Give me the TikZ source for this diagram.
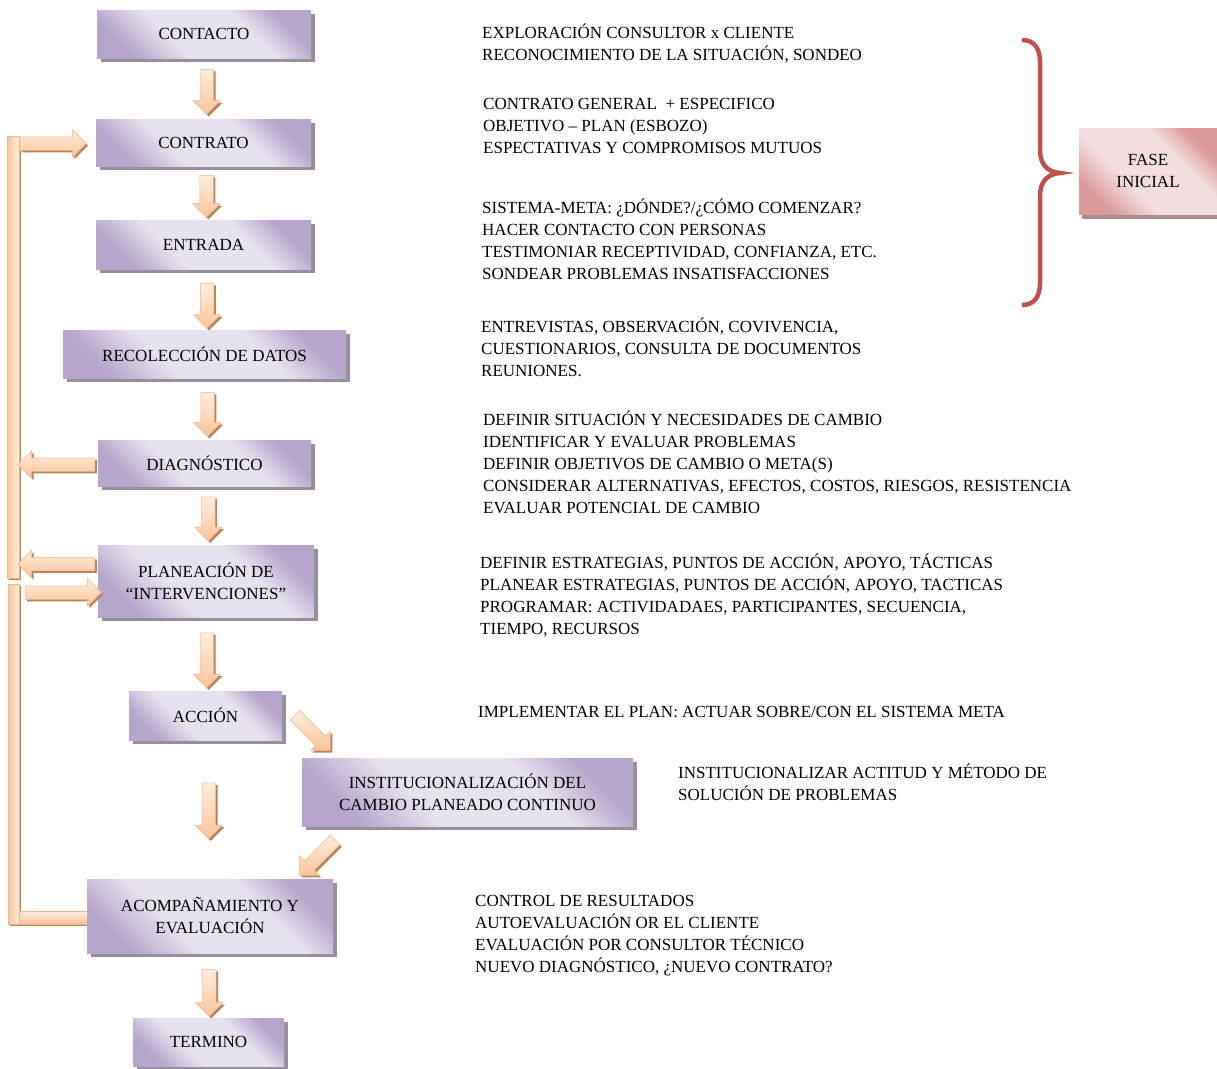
\documentclass[tikz,border=0pt]{standalone}
\usepackage{fontspec}
\setmainfont{Liberation Serif}
\usetikzlibrary{shapes.arrows,shadows,calc}

\definecolor{lavL}{RGB}{232,226,239}
\definecolor{lavD}{RGB}{182,166,204}
\definecolor{boxshadow}{RGB}{150,143,156}
\definecolor{peachL}{RGB}{254,238,225}
\definecolor{peachD}{RGB}{250,196,152}
\definecolor{peachE}{RGB}{245,180,132}
\definecolor{arrshadow}{RGB}{184,130,92}
\definecolor{braceRed}{RGB}{192,80,77}
\definecolor{pinkL}{RGB}{244,222,223}
\definecolor{pinkD}{RGB}{218,154,156}
\definecolor{pinkshadow}{RGB}{170,140,140}

\pgfdeclarehorizontalshading{lavshade}{100bp}{color(0bp)=(lavD); color(25bp)=(lavD); color(40bp)=(lavL); color(63bp)=(lavL); color(75bp)=(lavD); color(100bp)=(lavD)}
\pgfdeclarehorizontalshading{pinkshade}{100bp}{color(0bp)=(pinkD); color(25bp)=(pinkD); color(40bp)=(pinkL); color(63bp)=(pinkL); color(75bp)=(pinkD); color(100bp)=(pinkD)}

\newcommand\txtfont{\fontsize{17}{22}\selectfont}

\tikzset{
  stage/.style={rectangle, inner sep=0pt, shade, shading=lavshade, shading angle=45,
    font=\txtfont, align=center,
    drop shadow={shadow xshift=4pt, shadow yshift=-4pt, fill=boxshadow, opacity=1}},
  phase/.style={rectangle, inner sep=0pt, shade, shading=pinkshade, shading angle=45,
    font=\txtfont, align=center,
    drop shadow={shadow xshift=3pt, shadow yshift=-5pt, fill=pinkshadow, opacity=1}},
  blk/.style={single arrow, inner xsep=0pt, inner ysep=6.5pt, minimum width=27pt,
    single arrow head extend=7pt, single arrow head indent=0pt,
    draw=peachE, line width=0.5pt, shade, top color=peachL, bottom color=peachD,
    drop shadow={shadow xshift=2pt, shadow yshift=-2pt, fill=arrshadow, opacity=1}},
  bar/.style={draw=peachE, line width=0.5pt, left color=peachD, right color=peachL,
    drop shadow={shadow xshift=2pt, shadow yshift=-2pt, fill=arrshadow, opacity=1}},
  info/.style={anchor=north west, inner sep=0pt, align=left, font=\txtfont},
}

\begin{document}
\begin{tikzpicture}[x=1pt, y=-1pt]
\useasboundingbox (0,0) rectangle (1217,1068);

% feedback bars on the left
\coordinate (loopA top) at (7,136);
\coordinate (loopA bot) at (19,578);
\coordinate (loopB top) at (8,584);
\coordinate (loopB bot) at (19,924);
\coordinate (loopB end) at (88,911);
\path[bar] (loopA top) rectangle (loopA bot);
\path[bar] (loopB top) rectangle (loopB bot);
\path[bar, top color=peachL, bottom color=peachD] (loopB bot) rectangle (loopB end);

% stages
\node[stage, minimum width=214pt, minimum height=48pt] (contacto) at (204,34) {CONTACTO};
\node[stage, minimum width=215pt, minimum height=47pt] (contrato) at (203.5,142.5) {CONTRATO};
\node[stage, minimum width=215pt, minimum height=49pt] (entrada) at (203.5,244.5) {ENTRADA};
\node[stage, minimum width=283pt, minimum height=48pt] (recoleccion) at (204.5,354) {RECOLECCIÓN DE DATOS};
\node[stage, minimum width=213pt, minimum height=46pt] (diagnostico) at (204.5,463) {DIAGNÓSTICO};
\node[stage, minimum width=216pt, minimum height=72pt] (planeacion) at (206,581) {PLANEACIÓN DE\\“INTERVENCIONES”};
\node[stage, minimum width=153pt, minimum height=49pt] (accion) at (205.5,715.5) {ACCIÓN};
\node[stage, minimum width=331pt, minimum height=68pt] (instit) at (467.5,792) {INSTITUCIONALIZACIÓN DEL\\CAMBIO PLANEADO CONTINUO};
\node[stage, minimum width=246pt, minimum height=74pt] (acomp) at (210,916) {ACOMPAÑAMIENTO Y\\EVALUACIÓN};
\node[stage, minimum width=151pt, minimum height=48pt] (termino) at (208.5,1042) {TERMINO};

% phase label and brace
\node[phase, minimum width=138pt, minimum height=86pt] (fase) at (1148,171) {FASE\\INICIAL};
\draw[braceRed, line width=4.5pt]
  (1022,40) .. controls (1034,40) and (1040,48) .. (1040,62) -- (1040,150)
  .. controls (1040,164) and (1047,172) .. (1060,173)
  .. controls (1047,174) and (1040,182) .. (1040,196) -- (1040,283)
  .. controls (1040,297) and (1034,305) .. (1022,305);

% main flow arrows
\node[blk, rotate=-90, minimum height=45pt] (a1) at ($(contacto.south)!.5!(contrato.north)+(3,0)$) {};
\node[blk, rotate=-90, minimum height=42pt] (a2) at ($(contrato.south)!.5!(entrada.north)+(3,0)$) {};
\node[blk, rotate=-90, minimum height=45pt] (a3) at ($(entrada.south)!.5!(recoleccion.north)+(3,3)$) {};
\node[blk, rotate=-90, minimum height=44pt] (a4) at ($(recoleccion.south)!.5!(diagnostico.north)+(3,2)$) {};
\node[blk, rotate=-90, minimum height=44pt] (a5) at ($(diagnostico.south)!.5!(planeacion.north)+(3,0)$) {};
\node[blk, rotate=-90, minimum height=55pt] (a6) at ($(planeacion.south)!.5!(accion.north)+(1,3)$) {};
\node[blk, rotate=-90, minimum height=56pt] (a7) at ($(accion.south)!.5!(acomp.north)+(1,-2)$) {};
\node[blk, rotate=-90, minimum height=47pt] (a8) at ($(acomp.south)!.5!(termino.north)+(0,4)$) {};
\node[blk, rotate=-45, minimum height=50pt] (a9) at ($(accion.east)+(28,15)$) {};
\node[blk, rotate=-135, minimum height=50pt] (a10) at ($(instit.south west)+(18,29)$) {};

% feedback arrows
\node[blk, minimum height=66pt] (f1) at ($(contrato.west)+(-46,1)$) {};
\node[blk, rotate=180, minimum height=77pt] (f2) at ($(diagnostico.west)+(-38,1.5)$) {};
\node[blk, rotate=180, minimum height=77pt] (f3) at ($(planeacion.west)+(-38,-17)$) {};
\node[blk, minimum height=76pt] (f4) at ($(planeacion.west)+(-38,11.5)$) {};

% descriptions
\node[info] (d1) at (482,22.6) {\strut EXPLORACIÓN CONSULTOR x CLIENTE\\RECONOCIMIENTO DE LA SITUACIÓN, SONDEO};
\node[info] (d2) at (483,93.6) {\strut CONTRATO GENERAL \ + ESPECIFICO\\OBJETIVO – PLAN (ESBOZO)\\ESPECTATIVAS Y COMPROMISOS MUTUOS};
\node[info] (d3) at (482,197.6) {\strut SISTEMA-META: ¿DÓNDE?/¿CÓMO COMENZAR?\\HACER CONTACTO CON PERSONAS\\TESTIMONIAR RECEPTIVIDAD, CONFIANZA, ETC.\\SONDEAR PROBLEMAS INSATISFACCIONES};
\node[info] (d4) at (481,316.6) {\strut ENTREVISTAS, OBSERVACIÓN, COVIVENCIA,\\CUESTIONARIOS, CONSULTA DE DOCUMENTOS\\REUNIONES.};
\node[info] (d5) at (483,409.6) {\strut DEFINIR SITUACIÓN Y NECESIDADES DE CAMBIO\\IDENTIFICAR Y EVALUAR PROBLEMAS\\DEFINIR OBJETIVOS DE CAMBIO O META(S)\\CONSIDERAR ALTERNATIVAS, EFECTOS, COSTOS, RIESGOS, RESISTENCIA\\EVALUAR POTENCIAL DE CAMBIO};
\node[info] (d6) at (480,552.6) {\strut DEFINIR ESTRATEGIAS, PUNTOS DE ACCIÓN, APOYO, TÁCTICAS\\PLANEAR ESTRATEGIAS, PUNTOS DE ACCIÓN, APOYO, TACTICAS\\PROGRAMAR: ACTIVIDADAES, PARTICIPANTES, SECUENCIA,\\TIEMPO, RECURSOS};
\node[info] (d7) at (478,701.6) {\strut IMPLEMENTAR EL PLAN: ACTUAR SOBRE/CON EL SISTEMA META};
\node[info] (d8) at (678,762.6) {\strut INSTITUCIONALIZAR ACTITUD Y MÉTODO DE\\SOLUCIÓN DE PROBLEMAS};
\node[info] (d9) at (475,890.6) {\strut CONTROL DE RESULTADOS\\AUTOEVALUACIÓN OR EL CLIENTE\\EVALUACIÓN POR CONSULTOR TÉCNICO\\NUEVO DIAGNÓSTICO, ¿NUEVO CONTRATO?};
\end{tikzpicture}
\end{document}
